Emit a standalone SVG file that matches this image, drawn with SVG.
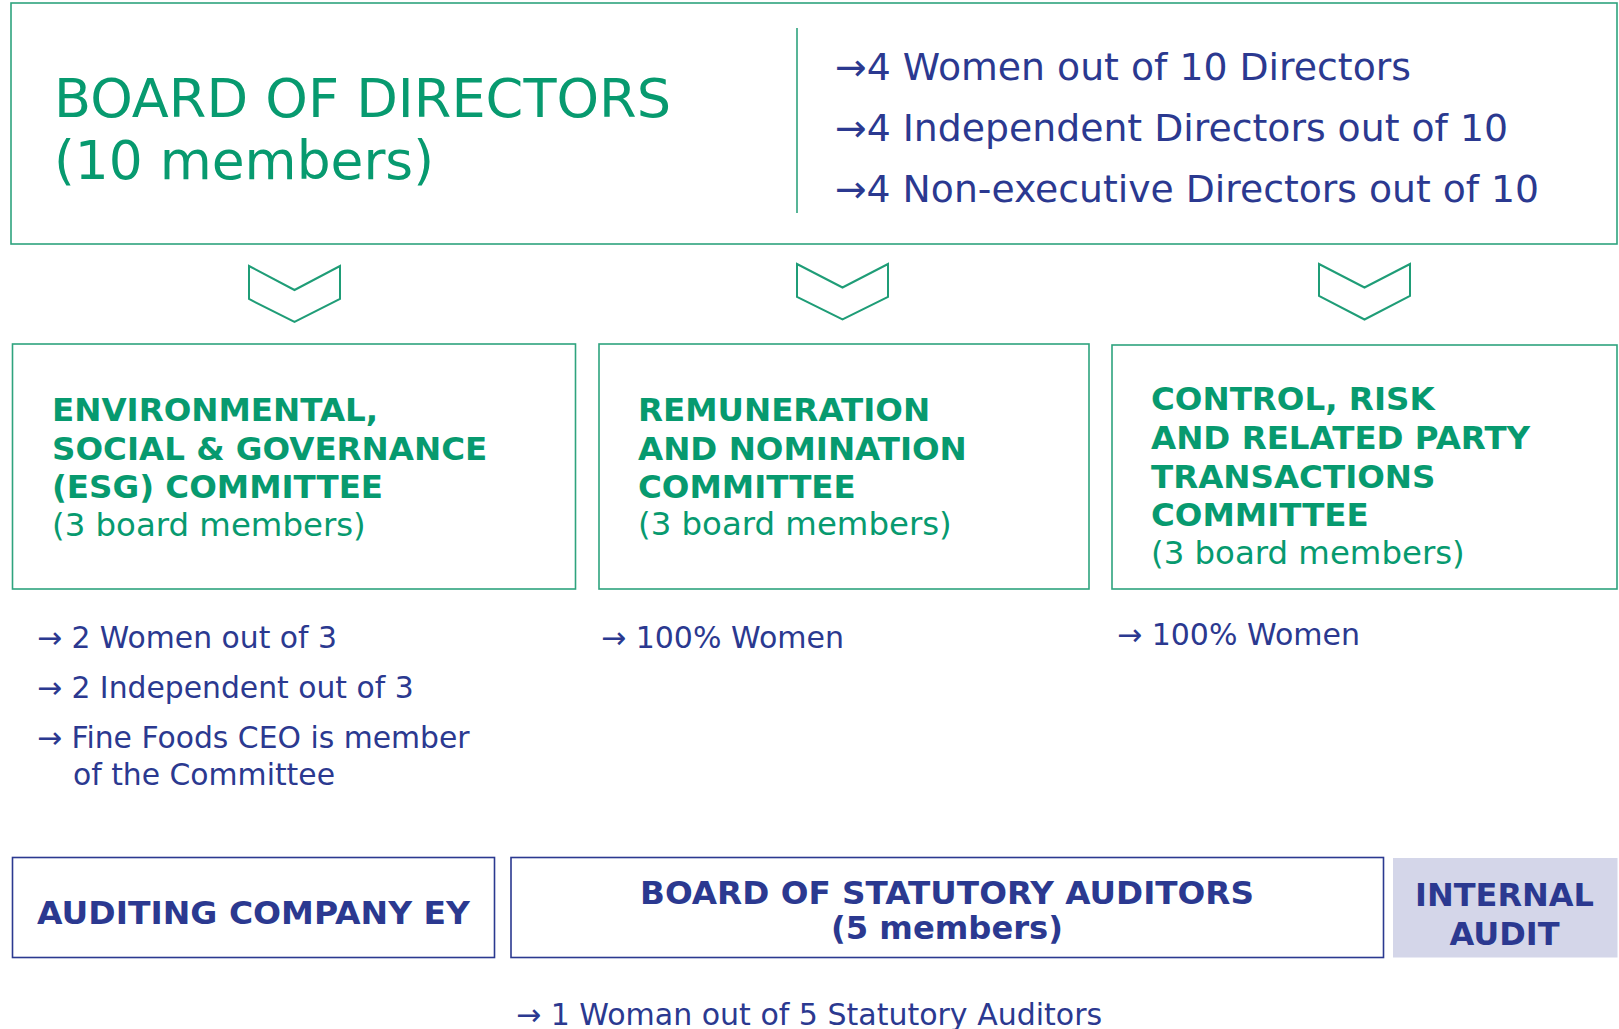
<svg xmlns="http://www.w3.org/2000/svg" width="1619" height="1029" viewBox="0 0 1619 1029">
  <style>
    .gbox { fill: #ffffff; stroke: #2ea37e; stroke-width: 1.6; }
    .nbox { fill: #ffffff; stroke: #2b3990; stroke-width: 1.6; }
    .chev { fill: #ffffff; stroke: #1f9d77; stroke-width: 2; stroke-linejoin: miter; }
    .sep { stroke: #2ea37e; stroke-width: 1.6; }
    .title { font-family: "DejaVu Sans", Verdana, sans-serif; fill: #079a6f; }
    .ghead { font-family: "DejaVu Sans", Verdana, sans-serif; font-weight: bold; font-size: 32.5px; fill: #079a6f; }
    .gsub { font-family: "DejaVu Sans", Verdana, sans-serif; font-size: 32.4px; fill: #079a6f; }
    .note { font-family: "DejaVu Sans", Verdana, sans-serif; fill: #2b3990; }
    .nhead { font-family: "DejaVu Sans", Verdana, sans-serif; font-weight: bold; font-size: 32px; fill: #2b3990; }
  </style>

  <!-- Board of Directors -->
  <g id="board-of-directors">
    <rect class="gbox" x="11" y="3" width="1606" height="241"/>
    <line class="sep" x1="797" y1="28" x2="797" y2="213"/>
    <text class="title" x="54" y="117" font-size="54" textLength="617" lengthAdjust="spacingAndGlyphs">BOARD OF DIRECTORS</text>
    <text class="title" x="54" y="179" font-size="54" textLength="380" lengthAdjust="spacingAndGlyphs">(10 members)</text>
    <text class="note" x="835" y="80" font-size="37.5" textLength="576" lengthAdjust="spacingAndGlyphs">→4 Women out of 10 Directors</text>
    <text class="note" x="835" y="141" font-size="37.5" textLength="673" lengthAdjust="spacingAndGlyphs">→4 Independent Directors out of 10</text>
    <text class="note" x="835" y="202" font-size="37.5" textLength="704" lengthAdjust="spacingAndGlyphs">→4 Non-executive Directors out of 10</text>
  </g>

  <!-- Chevrons leading down to the committees -->
  <g id="connectors">
    <polygon class="chev" points="249,266 294.5,290 340,266 340,299 294.5,322 249,299"/>
    <polygon class="chev" points="797,264 842.5,287.5 888,264 888,297 842.5,319.5 797,297"/>
    <polygon class="chev" points="1319,264 1364.5,287.5 1410,264 1410,296 1364.5,319.5 1319,296"/>
  </g>

  <!-- ESG Committee -->
  <g id="esg-committee">
    <rect class="gbox" x="12.5" y="344" width="563" height="245"/>
    <text class="ghead" x="52" y="421">ENVIRONMENTAL,</text>
    <text class="ghead" x="52" y="459.5">SOCIAL &amp; GOVERNANCE</text>
    <text class="ghead" x="52" y="498">(ESG) COMMITTEE</text>
    <text class="gsub" x="52" y="536">(3 board members)</text>
    <text class="note" x="37" y="648" font-size="29.8">→ 2 Women out of 3</text>
    <text class="note" x="37" y="698" font-size="29.8">→ 2 Independent out of 3</text>
    <text class="note" x="37" y="748" font-size="29.8">→ Fine Foods CEO is member</text>
    <text class="note" x="73" y="785" font-size="29.8">of the Committee</text>
  </g>

  <!-- Remuneration and Nomination Committee -->
  <g id="remuneration-committee">
    <rect class="gbox" x="599" y="344" width="490" height="245"/>
    <text class="ghead" x="638" y="421">REMUNERATION</text>
    <text class="ghead" x="638" y="459.5">AND NOMINATION</text>
    <text class="ghead" x="638" y="498">COMMITTEE</text>
    <text class="gsub" x="638" y="535">(3 board members)</text>
    <text class="note" x="601" y="648" font-size="30">→ 100% Women</text>
  </g>

  <!-- Control, Risk and Related Party Transactions Committee -->
  <g id="control-risk-committee">
    <rect class="gbox" x="1112" y="345" width="505" height="244"/>
    <text class="ghead" x="1151" y="410">CONTROL, RISK</text>
    <text class="ghead" x="1151" y="449">AND RELATED PARTY</text>
    <text class="ghead" x="1151" y="487.5">TRANSACTIONS</text>
    <text class="ghead" x="1151" y="526">COMMITTEE</text>
    <text class="gsub" x="1151" y="563.5">(3 board members)</text>
    <text class="note" x="1117" y="645" font-size="30">→ 100% Women</text>
  </g>

  <!-- Auditing company -->
  <g id="auditing-company">
    <rect class="nbox" x="12.5" y="857.5" width="482" height="100"/>
    <text class="nhead" x="37" y="924" textLength="433" lengthAdjust="spacingAndGlyphs">AUDITING COMPANY EY</text>
  </g>

  <!-- Board of Statutory Auditors -->
  <g id="statutory-auditors">
    <rect class="nbox" x="511" y="857.5" width="872.5" height="100"/>
    <text class="nhead" x="947" y="903.5" text-anchor="middle" font-size="30" textLength="614" lengthAdjust="spacingAndGlyphs">BOARD OF STATUTORY AUDITORS</text>
    <text class="nhead" x="947" y="938.5" text-anchor="middle" font-size="30" textLength="232" lengthAdjust="spacingAndGlyphs">(5 members)</text>
    <text class="note" x="516" y="1025" font-size="30">→ 1 Woman out of 5 Statutory Auditors</text>
  </g>

  <!-- Internal Audit -->
  <g id="internal-audit">
    <rect x="1393" y="858" width="224.5" height="99.5" fill="#d4d6e9"/>
    <text class="nhead" x="1504.5" y="905.5" text-anchor="middle" font-size="33.5">INTERNAL</text>
    <text class="nhead" x="1504.5" y="944.5" text-anchor="middle" font-size="33.5">AUDIT</text>
  </g>
</svg>
